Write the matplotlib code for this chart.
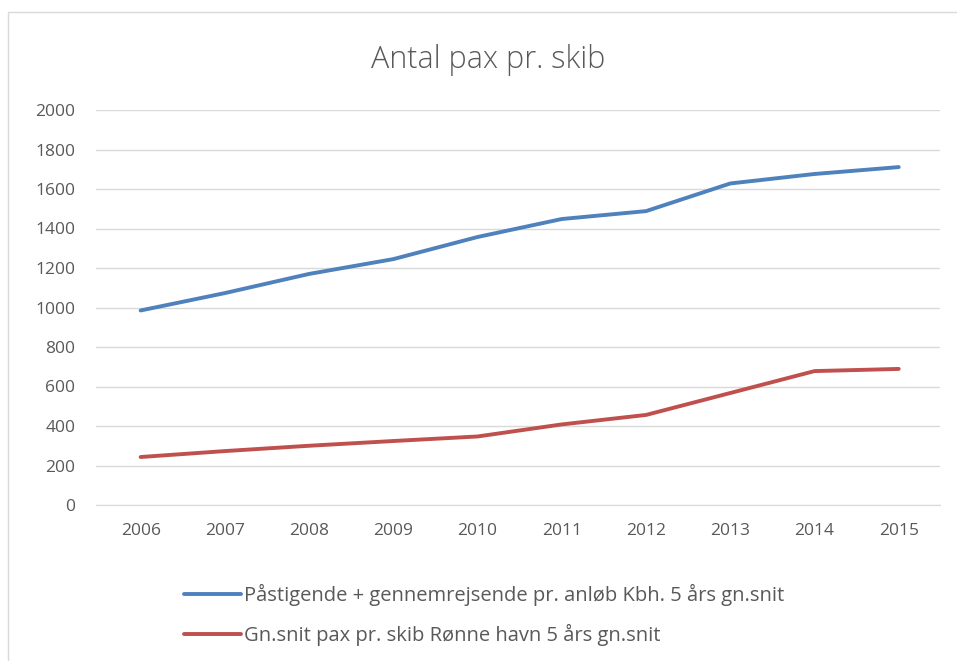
import matplotlib.pyplot as plt
from matplotlib.patches import Rectangle

# ---------------------------------------------------
# Data
# ---------------------------------------------------
years = [2006, 2007, 2008, 2009, 2010, 2011, 2012, 2013, 2014, 2015]
kbh_pax = [985, 1073, 1170, 1245, 1357, 1448, 1488, 1628, 1676, 1711]
ronne_pax = [243, 273, 300, 324, 347, 408, 456, 567, 678, 689]

label_kbh = "Påstigende + gennemrejsende pr. anløb Kbh. 5 års gn.snit"
label_ronne = "Gn.snit pax pr. skib Rønne havn 5 års gn.snit"
y_ticks = list(range(0, 2001, 200))

plt.rcParams["font.family"] = ["Open Sans", "DejaVu Sans"]
text_color = "#595959"

fig = plt.figure(figsize=(9.57, 6.61), dpi=100)

# chart area frame
fig.patches.append(Rectangle((8 / 957, -0.01), 1.0, 1 - 12 / 661 + 0.01,
                             transform=fig.transFigure, fill=False,
                             edgecolor="#d9d9d9", linewidth=1.0))

ax = fig.add_axes([96 / 957, 156 / 661, 844 / 957, 395 / 661])

ax.plot(years, kbh_pax, color="#4F81BD", linewidth=2.8, label=label_kbh,
        solid_capstyle="round")
ax.plot(years, ronne_pax, color="#C0504D", linewidth=2.8, label=label_ronne,
        solid_capstyle="round")

ax.set_xlim(2005.47, 2015.49)
ax.set_ylim(0, 2000)
ax.set_xticks(years)
ax.set_yticks(y_ticks)
ax.grid(axis="y", color="#d9d9d9", linewidth=1.0)
ax.set_axisbelow(True)
for side in ["top", "right", "left"]:
    ax.spines[side].set_visible(False)
ax.spines["bottom"].set_color("#d9d9d9")
ax.tick_params(length=0, labelsize=12.5, colors=text_color)
ax.tick_params(axis="x", pad=13)
ax.tick_params(axis="y", pad=15)

fig.text(488 / 957, 1 - 60 / 661, "Antal pax pr. skib", ha="center",
         va="center", fontsize=22, fontweight="light", color=text_color)

fig.legend(loc="upper left", bbox_to_anchor=(166 / 957, 1 - 566 / 661),
           frameon=False, fontsize=14.5, labelcolor=text_color,
           handlelength=2.8, handletextpad=0.15, labelspacing=0.9)

fig.savefig("out.png", dpi=100)
